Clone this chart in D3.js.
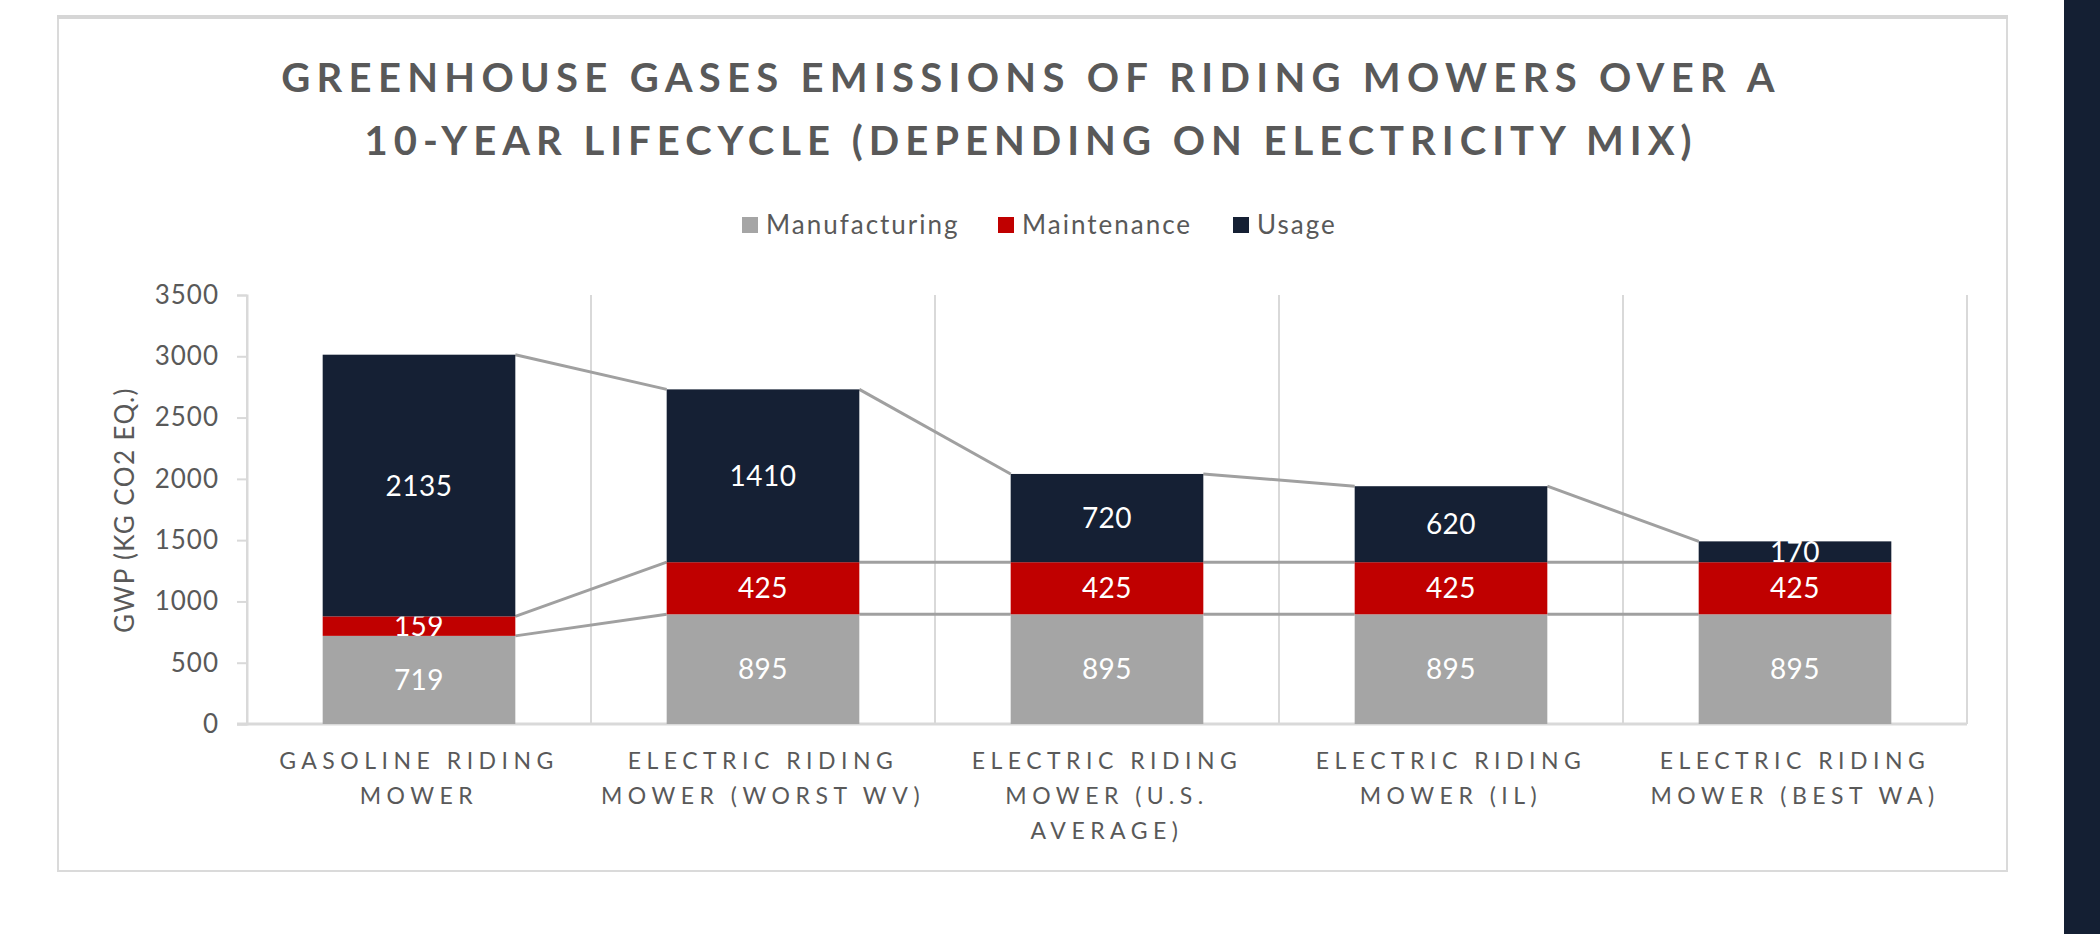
<!DOCTYPE html>
<html>
<head>
<meta charset="utf-8">
<script src="https://cdn.jsdelivr.net/npm/d3@7"></script>
<style>
	html, body { margin: 0; padding: 0; background: #ffffff; }
	svg { display: block; }
	text { font-family: Lato, "Open Sans", sans-serif; }
</style>
</head>
<body>
<svg id="chart" width="2100" height="934"></svg>
<script>

// data
var categories = ["gas", "wv", "us", "il", "wa"]
var categoryLines = [
	["GASOLINE RIDING", "MOWER"],
	["ELECTRIC RIDING", "MOWER (WORST WV)"],
	["ELECTRIC RIDING", "MOWER (U.S.", "AVERAGE)"],
	["ELECTRIC RIDING", "MOWER (IL)"],
	["ELECTRIC RIDING", "MOWER (BEST WA)"]
]
var seriesNames = ["Manufacturing", "Maintenance", "Usage"]
var manufacturing = [719, 895, 895, 895, 895]
var maintenance = [159, 425, 425, 425, 425]
var usage = [2135, 1410, 720, 620, 170]
var yTicks = [0, 500, 1000, 1500, 2000, 2500, 3000, 3500]
var titleLines = [
	"GREENHOUSE  GASES  EMISSIONS  OF  RIDING  MOWERS  OVER  A",
	"10-YEAR  LIFECYCLE  (DEPENDING  ON  ELECTRICITY  MIX)"
]
var yTitle = "GWP (KG CO2 EQ.)"

var colors = {
	"Manufacturing": "#a5a5a5",
	"Maintenance": "#c00000",
	"Usage": "#152034"
}

var svg = d3.select("#chart")

// dark strip on the right side
svg.append("rect")
	.attr("x", 2064).attr("y", 0)
	.attr("width", 36).attr("height", 934)
	.attr("fill", "#141f33")

// card
svg.append("rect")
	.attr("x", 58).attr("y", 18)
	.attr("width", 1949).attr("height", 853)
	.attr("fill", "#ffffff")
	.attr("stroke", "#dadada")
	.attr("stroke-width", 2)
svg.append("line")
	.attr("x1", 57).attr("x2", 2008)
	.attr("y1", 17).attr("y2", 17)
	.attr("stroke", "#d6d6d6")
	.attr("stroke-width", 4)

// title
svg.append("g").selectAll("text")
	.data(titleLines)
	.enter().append("text")
	.attr("x", 1031)
	.attr("y", function(d, i) { return 92 + i * 63 })
	.attr("text-anchor", "middle")
	.attr("font-size", 40)
	.attr("font-weight", 700)
	.attr("letter-spacing", function(d, i) { return i == 0 ? 6.3 : 6 })
	.attr("fill", "#595959")
	.text(function(d) { return d })

var plotLeft = 247, plotRight = 1967, plotTop = 295, plotBottom = 724

var x = d3.scaleBand()
	.domain(categories)
	.range([plotLeft, plotRight])
	.paddingInner(0.44)
	.paddingOuter(0.22)

var y = d3.scaleLinear()
	.domain([0, 3500])
	.range([plotBottom, plotTop])

var rows = categories.map(function(c, i)
{
	return { cat: c, Manufacturing: manufacturing[i], Maintenance: maintenance[i], Usage: usage[i] }
})
var stacked = d3.stack().keys(seriesNames)(rows)

// vertical separators between categories
var step = x.step()
svg.append("g").selectAll("line")
	.data(d3.range(categories.length + 1))
	.enter().append("line")
	.attr("x1", function(i) { return plotLeft + i * step })
	.attr("x2", function(i) { return plotLeft + i * step })
	.attr("y1", plotTop)
	.attr("y2", plotBottom)
	.attr("stroke", "#d9d9d9")
	.attr("stroke-width", 2)

// y axis
var yAxis = svg.append("g")
	.attr("transform", "translate(" + plotLeft + ",0)")
	.call(d3.axisLeft(y).tickValues(yTicks).tickFormat(d3.format("d")).tickSize(10).tickPadding(18))
yAxis.select(".domain").attr("stroke", "#d9d9d9").attr("stroke-width", 2)
yAxis.selectAll(".tick line").attr("stroke", "#d9d9d9").attr("stroke-width", 2)
yAxis.selectAll(".tick text")
	.attr("font-family", "Lato, sans-serif")
	.attr("font-size", 26)
	.attr("letter-spacing", 1)
	.attr("fill", "#595959")

// x axis line
svg.append("line")
	.attr("x1", plotLeft - 10).attr("x2", plotRight)
	.attr("y1", plotBottom).attr("y2", plotBottom)
	.attr("stroke", "#d9d9d9")
	.attr("stroke-width", 3)

// series lines joining the bars
var lineGroup = svg.append("g")
stacked.forEach(function(layer)
{
	for (var i = 0; i < layer.length - 1; i++)
	{
		lineGroup.append("line")
			.attr("x1", x(categories[i]) + x.bandwidth())
			.attr("y1", y(layer[i][1]))
			.attr("x2", x(categories[i + 1]))
			.attr("y2", y(layer[i + 1][1]))
			.attr("stroke", "#a0a0a0")
			.attr("stroke-width", 3)
	}
})

// bars
var layers = svg.append("g").selectAll("g")
	.data(stacked)
	.enter().append("g")
	.attr("fill", function(d) { return colors[d.key] })

layers.selectAll("rect")
	.data(function(d) { return d })
	.enter().append("rect")
	.attr("x", function(d) { return x(d.data.cat) })
	.attr("y", function(d) { return y(d[1]) })
	.attr("width", x.bandwidth())
	.attr("height", function(d) { return y(d[0]) - y(d[1]) })

// value labels
layers.selectAll("text")
	.data(function(d) { return d.map(function(p) { return { p: p, key: d.key } }) })
	.enter().append("text")
	.attr("x", function(d) { return x(d.p.data.cat) + x.bandwidth() / 2 })
	.attr("y", function(d) { return (y(d.p[0]) + y(d.p[1])) / 2 + 10 })
	.attr("text-anchor", "middle")
	.attr("font-size", 28)
	.attr("letter-spacing", 0.5)
	.attr("fill", "#ffffff")
	.text(function(d) { return d.p.data[d.key] })

// category labels
var catLabels = svg.append("g").selectAll("text")
	.data(categories)
	.enter().append("text")
	.attr("text-anchor", "middle")
	.attr("font-size", 23)
	.attr("letter-spacing", 5.5)
	.attr("fill", "#595959")

catLabels.selectAll("tspan")
	.data(function(d, i) { return categoryLines[i] })
	.enter().append("tspan")
	.attr("x", function() { return x(d3.select(this.parentNode).datum()) + x.bandwidth() / 2 })
	.attr("y", function(d, j) { return 769 + j * 35 })
	.text(function(d) { return d })

// y axis title
svg.append("text")
	.attr("transform", "translate(134,510) rotate(-90)")
	.attr("text-anchor", "middle")
	.attr("font-size", 26)
	.attr("letter-spacing", 1.4)
	.attr("fill", "#595959")
	.text(yTitle)

// legend
var legendX = [742, 998, 1233]
var legend = svg.append("g").selectAll("g")
	.data(seriesNames)
	.enter().append("g")
	.attr("transform", function(d, i) { return "translate(" + legendX[i] + ",217)" })

legend.append("rect")
	.attr("width", 16).attr("height", 16)
	.attr("fill", function(d) { return colors[d] })

legend.append("text")
	.attr("x", 24)
	.attr("y", 17)
	.attr("font-size", 26)
	.attr("letter-spacing", 2)
	.attr("fill", "#595959")
	.text(function(d) { return d })

</script>
</body>
</html>
